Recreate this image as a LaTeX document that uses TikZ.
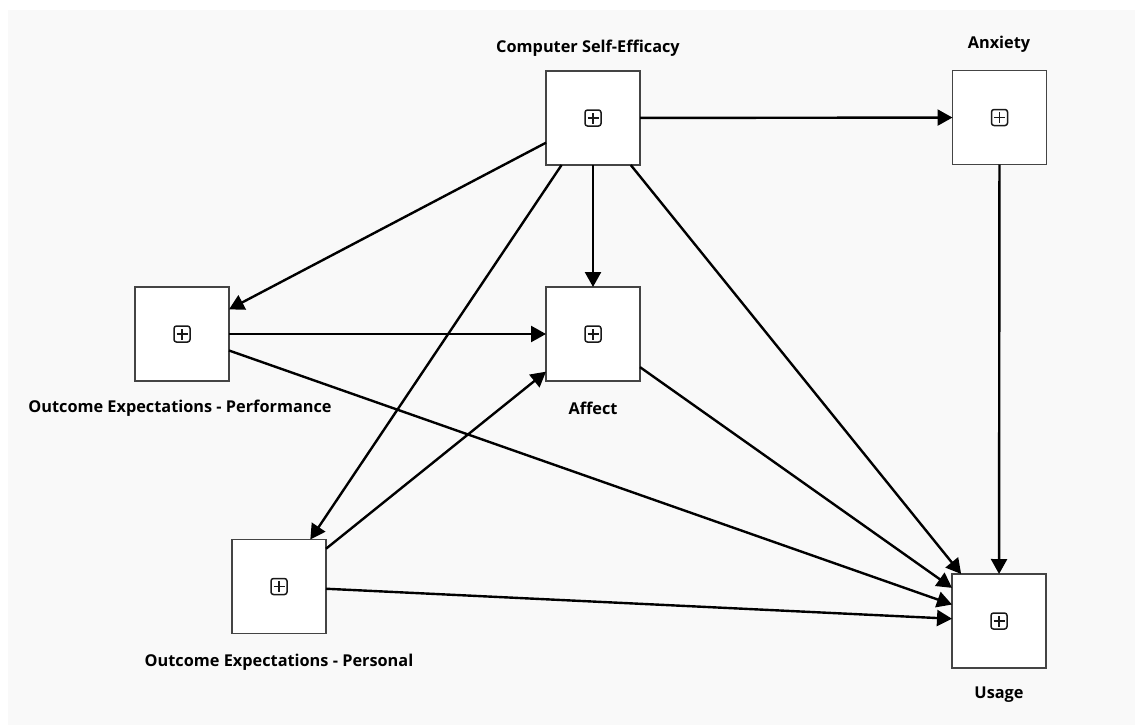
\documentclass[tikz,border=0pt]{standalone}
\usepackage{fontspec}
\setmainfont{Open Sans}
\usetikzlibrary{arrows.meta}
\definecolor{panel}{HTML}{F9F9F9}
\definecolor{boxline}{HTML}{444444}
\begin{document}
\begin{tikzpicture}[x=1pt,y=-1pt,
  construct/.style={draw=boxline, line width=1.6pt, fill=white, minimum size=94pt,
    inner sep=0pt, outer sep=0pt,
    path picture={
      \draw[line width=1.5pt, rounded corners=2.5pt, black!90]
        ([xshift=-8pt,yshift=-8pt]path picture bounding box.center) rectangle
        ([xshift=8pt,yshift=8pt]path picture bounding box.center);
      \draw[line width=1.4pt, black!90]
        ([xshift=-5.5pt]path picture bounding box.center) --
        ([xshift=5.5pt]path picture bounding box.center)
        ([yshift=-5.5pt]path picture bounding box.center) --
        ([yshift=5.5pt]path picture bounding box.center);
    }},
  lbl/.style={font=\bfseries\fontsize{16.3}{19}\selectfont, inner sep=0pt},
  link/.style={line width=2.4pt, -{Triangle[length=15pt,width=16pt]}}
]
% canvas
\fill[white] (0,0) rectangle (1135,725);
\fill[panel] (8,10) rectangle (1135,725);
\useasboundingbox (0,0) rectangle (1135,725);

% constructs
\node[construct] (cse) at (593,118) {};
\node[construct] (anx) at (999.5,117.5) {};
\node[construct] (oeperf) at (182,334) {};
\node[construct] (aff) at (593,334) {};
\node[construct] (oepers) at (279,586.5) {};
\node[construct] (use) at (999,621) {};

% labels
\node[lbl] (tcse) at (588,48) {Computer Self-Efficacy};
\node[lbl] (tanx) at (999,44) {Anxiety};
\node[lbl] (toeperf) at (180,408) {Outcome Expectations - Performance};
\node[lbl] (taff) at (593,408) {Affect};
\node[lbl] (toepers) at (279,662) {Outcome Expectations - Personal};
\node[lbl] (tuse) at (999,695) {Usage};

% paths
\draw[link] (cse) -- (anx);
\draw[link] (cse) -- (oeperf);
\draw[link] (cse) -- (aff);
\draw[link] (cse) -- (oepers);
\draw[link] (cse) -- (use);
\draw[link] (anx) -- (use);
\draw[link] (oeperf) -- (aff);
\draw[link] (oeperf) -- (use);
\draw[link] (aff) -- (use);
\draw[link] (oepers) -- (aff);
\draw[link] (oepers) -- (use);
\end{tikzpicture}
\end{document}
